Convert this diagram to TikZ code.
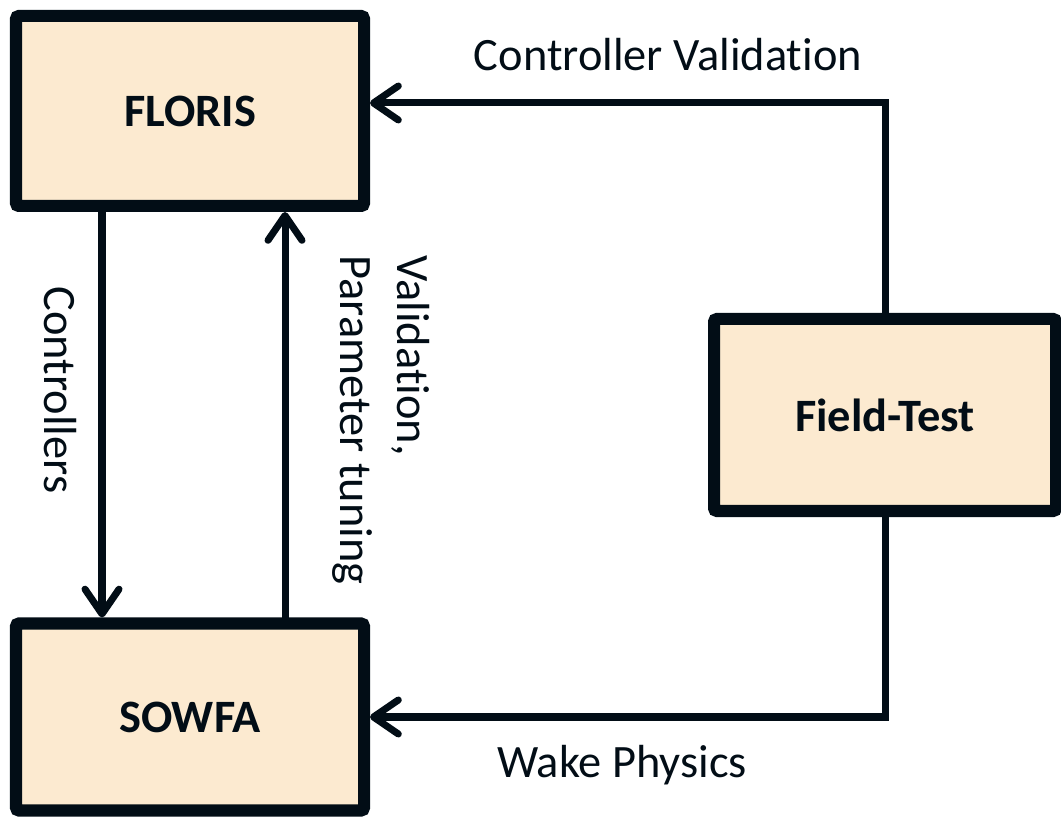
\documentclass[tikz,border=0pt]{standalone}
\usepackage{fontspec}
\setmainfont{Carlito}[RawFeature={-liga;-clig;-calt;-dlig}]
\usetikzlibrary{positioning, arrows.meta}
\definecolor{boxfill}{HTML}{FCEAD0}
\definecolor{ink}{HTML}{020D16}
\newcommand{\tibreak}{t\kern0pt i}
\tikzset{
  x=0.025cm, y=-0.025cm,
  block/.style={draw=ink, fill=boxfill, line width=0.3cm, rounded corners=2pt,
    font=\fontsize{33}{40}\selectfont\bfseries, text=ink, inner sep=0pt},
  arr/.style={draw=ink, line width=0.175cm, line cap=round,
    -{Straight Barb[length=0.62cm, width=0.85cm, round]}},
  lbl/.style={font=\fontsize{33}{40}\selectfont, text=ink, inner sep=0pt},
}

\begin{document}
\begin{tikzpicture}
  \useasboundingbox (0,0) rectangle (1061,819);

  % blocks
  \node[block, minimum width=348*0.025cm, minimum height=190*0.025cm] (floris) at (190,111) {FLORIS};
  \node[block, minimum width=348*0.025cm, minimum height=187*0.025cm] (sowfa) at (190,717) {SOWFA};
  \node[block, minimum width=342*0.025cm, minimum height=192*0.025cm] (field) at (885,415) {Field-Test};

  % helper coordinates
  \coordinate (cl) at (102,0);
  \coordinate (cr) at (285,0);
  \coordinate (ctop) at (0,103);

  % connectors
  \draw[arr] (floris.south -| cl) -- (sowfa.north -| cl);
  \draw[arr] (sowfa.north -| cr) -- (floris.south -| cr);
  \draw[arr] (field.north) |- (floris.east |- ctop);
  \draw[arr] (field.south) |- (sowfa.east);

  % labels
  \node[lbl] (valid) at (668,55) {Controller Valida\tibreak on};
  \node[lbl] (wake) at (622,765) {Wake Physics};
  \node[lbl, rotate=-90] (ctrl) at (60,390) {Controllers};
  \node[lbl, rotate=-90, align=left] (tune) at (381,420) {Valida\tibreak on,\\Parameter tuning};
\end{tikzpicture}
\end{document}
